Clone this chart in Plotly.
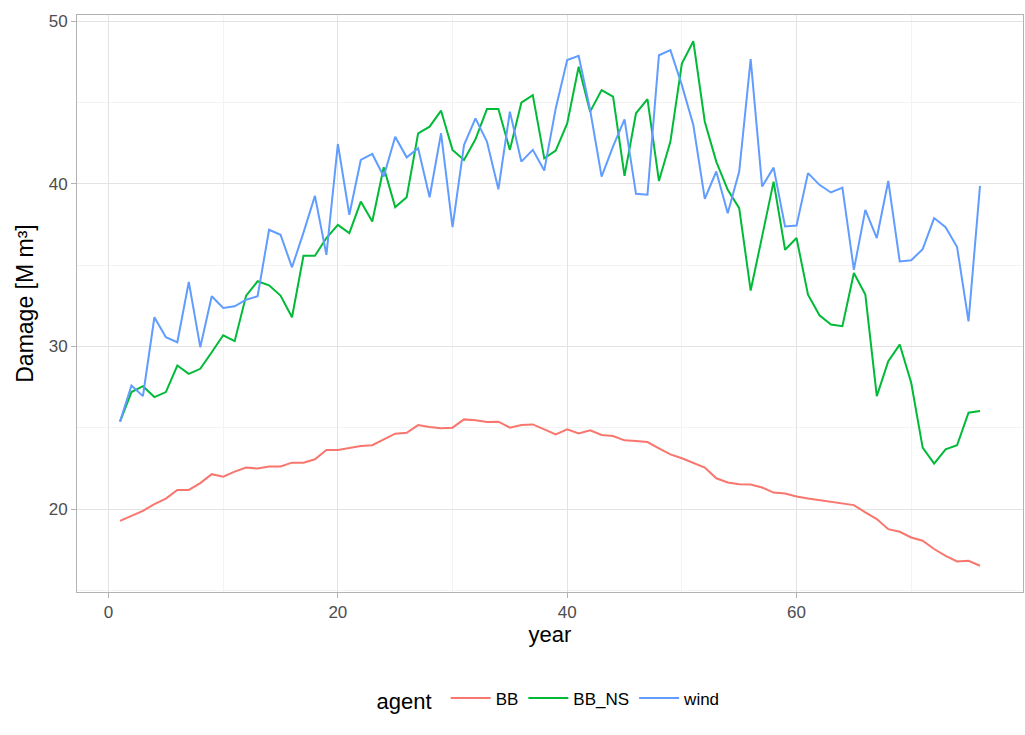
import plotly.graph_objects as go

years = list(range(1, 77))

bb = [19.28, 19.59, 19.90, 20.31, 20.65, 21.18, 21.18, 21.60, 22.15, 22.00,
      22.31, 22.56, 22.50, 22.62, 22.62, 22.86, 22.86, 23.07, 23.64, 23.64,
      23.78, 23.88, 23.93, 24.30, 24.64, 24.70, 25.17, 25.05, 24.97, 25.01,
      25.52, 25.46, 25.36, 25.38, 25.01, 25.17, 25.21, 24.91, 24.60, 24.91,
      24.66, 24.85, 24.56, 24.50, 24.23, 24.19, 24.13, 23.74, 23.37, 23.13,
      22.86, 22.56, 21.90, 21.64, 21.53, 21.51, 21.33, 21.02, 20.96, 20.78,
      20.65, 20.55, 20.45, 20.37, 20.25, 19.80, 19.39, 18.77, 18.61, 18.26,
      18.06, 17.55, 17.13, 16.79, 16.83, 16.52]

bb_ns = [25.38, 27.20, 27.56, 26.89, 27.20, 28.83, 28.32, 28.63, 29.65, 30.69,
         30.33, 33.13, 34.01, 33.76, 33.13, 31.80, 35.58, 35.58, 36.67, 37.48,
         36.97, 38.91, 37.69, 41.02, 38.57, 39.18, 43.11, 43.52, 44.50, 42.09,
         41.47, 42.74, 44.60, 44.60, 42.09, 44.99, 45.46, 41.57, 42.04, 43.72,
         47.20, 44.44, 45.77, 45.36, 40.49, 44.34, 45.21, 40.18, 42.60, 47.40,
         48.77, 43.82, 41.37, 39.63, 38.51, 33.44, 36.77, 40.14, 35.95, 36.67,
         33.19, 31.92, 31.35, 31.25, 34.52, 33.19, 26.95, 29.10, 30.12, 27.77,
         23.78, 22.80, 23.68, 23.93, 25.93, 26.03]

wind = [25.38, 27.60, 26.95, 31.80, 30.57, 30.26, 33.97, 29.96, 33.09, 32.37,
        32.47, 32.88, 33.09, 37.18, 36.87, 34.87, 37.00, 39.26, 35.64, 42.45,
        38.10, 41.47, 41.84, 40.45, 42.90, 41.63, 42.19, 39.18, 43.11, 37.34,
        42.39, 44.03, 42.60, 39.67, 44.44, 41.37, 42.09, 40.82, 44.64, 47.61,
        47.87, 44.54, 40.45, 42.30, 43.97, 39.39, 39.33, 47.91, 48.22, 46.07,
        43.62, 39.08, 40.76, 38.20, 40.76, 47.67, 39.84, 41.00, 37.38, 37.44,
        40.66, 39.94, 39.47, 39.77, 34.72, 38.40, 36.67, 40.18, 35.23, 35.30,
        35.99, 37.90, 37.34, 36.12, 31.55, 39.88]

agents = ["BB", "BB_NS", "wind"]
colors = {"BB": "#F8766D", "BB_NS": "#00BA38", "wind": "#619CFF"}
values = {"BB": bb, "BB_NS": bb_ns, "wind": wind}

x_ticks = [0, 20, 40, 60]
y_ticks = [20, 30, 40, 50]

font_family = "Liberation Sans, Arial, sans-serif"

fig = go.Figure()
for a in agents:
    fig.add_trace(go.Scatter(
        x=years, y=values[a], mode="lines", name=a,
        line=dict(color=colors[a], width=2),
    ))

# padded ranges like ggplot's default 5% expansion
def padded(lo, hi, f=0.05):
    d = (hi - lo) * f
    return [lo - d, hi + d]

all_y = bb + bb_ns + wind
x_range = padded(min(years), max(years))
y_range = padded(min(all_y), max(all_y))

axis_common = dict(
    showline=True, mirror=True, linecolor="#b3b3b3", linewidth=1,
    showgrid=True, gridcolor="#e3e3e3", gridwidth=1,
    zeroline=False,
    ticks="outside", ticklen=5, tickcolor="#b3b3b3",
    tickfont=dict(family=font_family, size=17, color="#4d4d4d"),
)

fig.update_xaxes(
    range=x_range, tickvals=x_ticks,
    minor=dict(dtick=10, tick0=0, showgrid=True, gridcolor="#f3f3f3", gridwidth=1),
    title=dict(text="year", font=dict(family=font_family, size=22, color="#000000"), standoff=4),
    **axis_common,
)
fig.update_yaxes(
    range=y_range, tickvals=y_ticks,
    minor=dict(dtick=5, tick0=0, showgrid=True, gridcolor="#f3f3f3", gridwidth=1),
    title=dict(text="Damage [M m³]", font=dict(family=font_family, size=23, color="#000000"), standoff=8),
    **axis_common,
)

fig.update_layout(
    width=1025, height=735,
    margin=dict(l=77, r=2, t=15, b=143),
    paper_bgcolor="#ffffff", plot_bgcolor="#ffffff",
    font=dict(family=font_family, color="#000000"),
    showlegend=True,
    legend=dict(
        orientation="h", x=0.5, xanchor="center", y=-0.187, yanchor="middle",
        title=dict(text="agent ", font=dict(size=22, color="#000000")),
        font=dict(size=17, color="#000000"),
        itemwidth=40,
    ),
)

fig.write_html("out.html")
